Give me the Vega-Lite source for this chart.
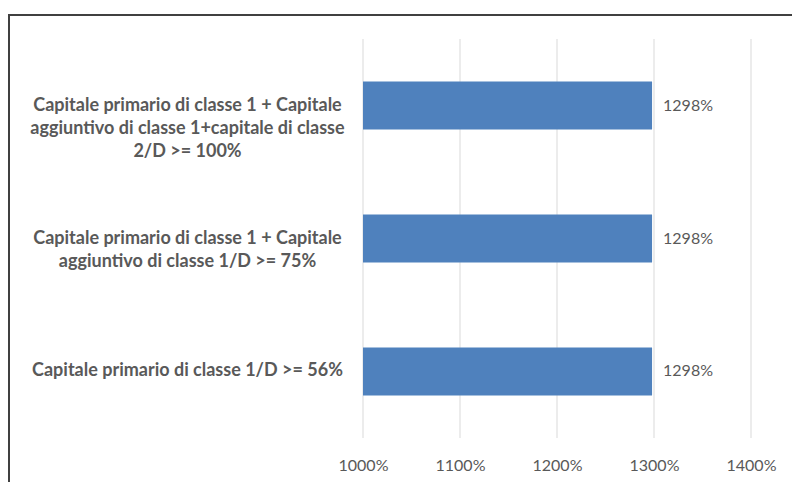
{
  "$schema": "https://vega.github.io/schema/vega-lite/v6.json",
  "autosize": {"type": "none"},
  "padding": {"left": 9, "top": 15, "right": 0, "bottom": 0},
  "width": 800,
  "height": 485,
  "background": "white",
  "config": {"view": {"stroke": "#404040", "strokeWidth": 2}, "font": "Lato"},
  "data": {
    "values": [
      {"category": "Capitale primario di classe 1 + Capitale|aggiuntivo di classe 1+capitale di classe|2/D >= 100%", "value": 12.98},
      {"category": "Capitale primario di classe 1 + Capitale|aggiuntivo di classe 1/D >= 75%", "value": 12.98},
      {"category": "Capitale primario di classe 1/D >= 56%", "value": 12.98}
    ]
  },
  "layer": [
    {
      "data": {"values": [{"tick": 10}, {"tick": 11}, {"tick": 12}, {"tick": 13}, {"tick": 14}]},
      "mark": {"type": "rule", "color": "#D9D9D9", "strokeWidth": 1},
      "encoding": {
        "x": {
          "field": "tick",
          "type": "quantitative",
          "scale": {"domain": [10, 14], "range": [354, 742], "nice": false, "zero": false},
          "axis": {
            "title": null,
            "format": ".0%",
            "values": [10, 11, 12, 13, 14],
            "grid": false,
            "domain": false,
            "ticks": false,
            "labelPadding": -43,
            "labelFlush": false,
            "labelOverlap": false,
            "labelFont": "Lato",
            "labelFontSize": 16,
            "labelColor": "#595959"
          }
        },
        "y": {"datum": 0, "type": "quantitative", "scale": {"domain": [0, 1], "range": [24, 423], "nice": false, "zero": false}, "axis": null},
        "y2": {"datum": 1}
      }
    },
    {
      "encoding": {
        "x": {"field": "value", "type": "quantitative"},
        "y": {
          "field": "category",
          "type": "nominal",
          "sort": null,
          "scale": {"range": [24, 423], "paddingInner": 0.639, "paddingOuter": 0.32},
          "axis": {
            "title": null,
            "orient": "left",
            "offset": -178,
            "ticks": false,
            "domain": false,
            "grid": false,
            "labelPadding": 0,
            "labelAlign": "center",
            "labelExpr": "split(datum.label, '|')",
            "labelFont": "Lato",
            "labelFontWeight": "bold",
            "labelFontSize": 18,
            "labelColor": "#595959",
            "labelLineHeight": 23,
            "labelLimit": 0
          }
        }
      },
      "layer": [
        {"mark": {"type": "bar", "color": "#4F81BD"}, "encoding": {"x2": {"datum": 10}}},
        {
          "mark": {"type": "text", "align": "left", "dx": 11, "fontSize": 16, "color": "#595959", "font": "Lato"},
          "encoding": {"text": {"field": "value", "type": "quantitative", "format": ".0%"}}
        }
      ]
    }
  ],
  "resolve": {"scale": {"y": "independent"}, "axis": {"y": "independent"}}
}
